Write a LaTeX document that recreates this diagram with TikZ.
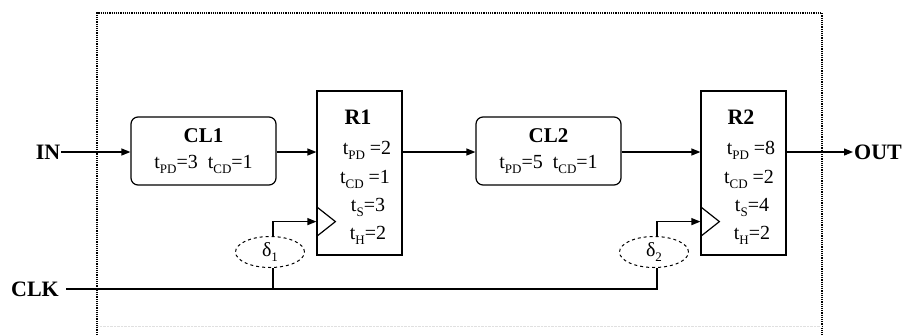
\documentclass[tikz,border=0pt]{standalone}
\usepackage{fontspec}
\setmainfont{Liberation Serif}
\usetikzlibrary{arrows.meta,positioning,shapes.geometric,calc}
\newcommand\subtx[1]{\raisebox{-5pt}{\fontsize{13}{13}\selectfont #1}}

\begin{document}
\begin{tikzpicture}[x=1pt, y=-1pt,
        >={Triangle[length=9pt,width=7pt]},
        every node/.style = {font=\fontsize{20}{28}\selectfont},
        lbl/.style = {font=\fontsize{22}{24}\selectfont\bfseries, inner sep=1pt},
        comb/.style = {rectangle, draw, line width=1.2pt, rounded corners=7pt, minimum width=145pt, minimum height=68pt, align=center, inner sep=0pt},
        reg/.style = {rectangle, draw, line width=1.2pt, minimum width=85pt, minimum height=164pt, inner sep=0pt},
        dly/.style = {ellipse, draw, dashed, line width=1pt, minimum width=69pt, minimum height=31pt, inner sep=0pt},
        wire/.style = {line width=1.2pt}
    ]
    \useasboundingbox (0,0) rectangle (909,335);

    % Marco punteado
    \draw [densely dotted, line width=1.2pt] (97,335) -- (97,13) -- (822,13) -- (822,335);
    \draw [densely dotted, black!12] (97,326) -- (822,326);

    % Bloques combinacionales
    \node [comb] (cl1) at (203.5,151) {\textbf{\fontsize{21}{24}\selectfont CL1}\\[-2pt] t\subtx{PD}=3\ \ t\subtx{CD}=1};
    \node [comb] (cl2) at (548.5,151) {\textbf{\fontsize{21}{24}\selectfont CL2}\\[-2pt] t\subtx{PD}=5\ \ t\subtx{CD}=1};

    % Registros
    \node [reg] (r1) at (359.5,173) {};
    \node [reg] (r2) at (743.5,173) {};
    \node [lbl] at (358,117) {R1};
    \node [lbl] at (741,117) {R2};
    \node at (367,150) {t\subtx{PD}\ =2};
    \node at (365,179) {t\subtx{CD}\ =1};
    \node at (368,207) {t\subtx{S}=3};
    \node at (368,235) {t\subtx{H}=2};
    \node at (751,150) {t\subtx{PD}\ =8};
    \node at (749,179) {t\subtx{CD}\ =2};
    \node at (752,207) {t\subtx{S}=4};
    \node at (752,235) {t\subtx{H}=2};

    % Entradas de reloj
    \coordinate (r1clk) at ($(r1.south west)+(0,-34)$);
    \coordinate (r2clk) at ($(r2.south west)+(0,-34)$);
    \draw [wire] ($(r1clk)+(0,-15)$) -- ($(r1clk)+(19,0)$) -- ($(r1clk)+(0,15)$);
    \draw [wire] ($(r2clk)+(0,-15)$) -- ($(r2clk)+(19,0)$) -- ($(r2clk)+(0,15)$);

    % Retardos
    \node [dly] (d1) at (270,252) {δ\subtx{1}};
    \node [dly] (d2) at (654,252) {δ\subtx{2}};

    % Terminales
    \node [lbl] (in) at (48,152) {IN};
    \node [lbl] (clk) at (35,289) {CLK};
    \node [lbl, anchor=west] (out) at (853,152) {OUT};

    % Datos
    \draw [wire, ->] (in.east) -- (cl1.west |- in.east);
    \draw [wire, ->] (cl1.east |- in.east) -- (r1.west |- in.east);
    \draw [wire, ->] (r1.east |- in.east) -- (cl2.west |- in.east);
    \draw [wire, ->] (cl2.east |- in.east) -- (r2.west |- in.east);
    \draw [wire, ->] (r2.east |- in.east) -- (out.west);

    % Reloj
    \draw [wire] ([xshift=6pt]clk.east) -| ([xshift=3pt]d2.south);
    \draw [wire] ([xshift=3pt]d1.south) -- ([xshift=3pt]d1.south |- clk.east);
    \draw [wire, ->] ([xshift=3pt]d1.north) |- (r1clk);
    \draw [wire, ->] ([xshift=3pt]d2.north) |- (r2clk);
\end{tikzpicture}
\end{document}
